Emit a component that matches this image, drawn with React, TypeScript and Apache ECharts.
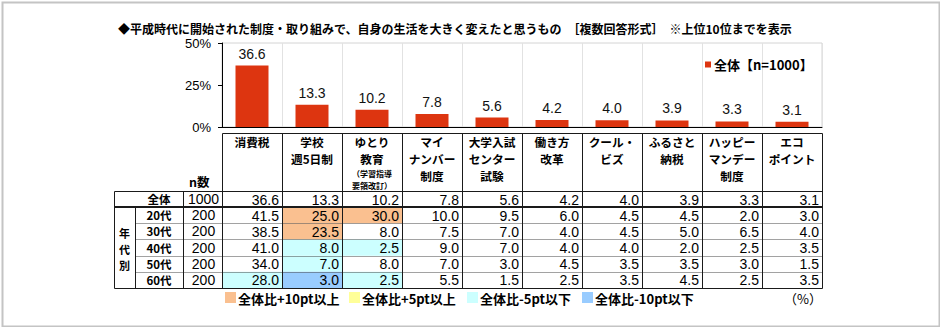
import React, { useEffect, useRef } from 'react';
import * as echarts from 'echarts';

const TITLE = '◆平成時代に開始された制度・取り組みで、自身の生活を大きく変えたと思うもの　［複数回答形式］　※上位10位までを表示';
const SERIES_NAME = '全体【n=1000】';
const categories = ['消費税', '学校\n週5日制', 'ゆとり\n教育', 'マイ\nナンバー\n制度', '大学入試\nセンター\n試験', '働き方\n改革', 'クール・\nビズ', 'ふるさと\n納税', 'ハッピー\nマンデー\n制度', 'エコ\nポイント'];
const overall = [36.6, 13.3, 10.2, 7.8, 5.6, 4.2, 4.0, 3.9, 3.3, 3.1];
const age20 = [41.5, 25.0, 30.0, 10.0, 9.5, 6.0, 4.5, 4.5, 2.0, 3.0];
const age30 = [38.5, 23.5, 8.0, 7.5, 7.0, 4.0, 4.5, 5.0, 6.5, 4.0];
const age40 = [41.0, 8.0, 2.5, 9.0, 7.0, 4.0, 4.0, 2.0, 2.5, 3.5];
const age50 = [34.0, 7.0, 8.0, 7.0, 3.0, 4.5, 3.5, 3.5, 3.0, 1.5];
const age60 = [28.0, 3.0, 2.5, 5.5, 1.5, 2.5, 3.5, 4.5, 2.5, 3.5];
const rowLabels = ['全体', '20代', '30代', '40代', '50代', '60代'];
const nValues = [1000, 200, 200, 200, 200, 200];
const yTicks = [0, 25, 50];
const groupLabel = ['年', '代', '別'];
const legendItems = ['全体比+10pt以上', '全体比+5pt以上', '全体比-5pt以下', '全体比-10pt以下'];

const BAR_COLOR = '#DD3510';
const HL_COLORS = ['#FAC090', '#FFFF99', '#CCFFFF', '#99CCFF'];
const JP = '"Noto Sans CJK JP", sans-serif';
const NUM = '"Liberation Sans", Arial, "Noto Sans CJK JP", sans-serif';

function highlight(v: number, base: number): string | null {
  const d = Math.round((v - base) * 10) / 10;
  if (d >= 10) return HL_COLORS[0];
  if (d >= 5) return HL_COLORS[1];
  if (d <= -10) return HL_COLORS[3];
  if (d <= -5) return HL_COLORS[2];
  return null;
}

export default function App() {
  const ref = useRef<HTMLDivElement>(null);
  useEffect(() => {
    const chart = echarts.init(ref.current!, null, { renderer: 'svg' });
    const rows = [overall, age20, age30, age40, age50, age60];
    const cellData: number[][] = [];
    rows.forEach((row, r) => row.forEach((v, c) => cellData.push([c, r, v])));

    const HEADER_H = 58;

    const legendGraphics: any[] = [];
    const legendX = [225, 349, 467, 582];
    legendItems.forEach((t, i) => {
      legendGraphics.push({ type: 'rect', left: legendX[i], top: 292, shape: { width: 11, height: 11 }, style: { fill: HL_COLORS[i] } });
      legendGraphics.push({ type: 'text', x: legendX[i] + 13, y: 298, style: { text: t, fontFamily: JP, fontWeight: 'bold', fontSize: 13, lineHeight: 14, fill: '#000', verticalAlign: 'middle' } });
    });
    const groupGraphics = groupLabel.map((t, i) => ({
      type: 'text', x: 124.5, y: 233 + i * 16,
      style: { text: t, fontFamily: JP, fontWeight: 'bold', fontSize: 11, lineHeight: 12, fill: '#000', align: 'center', verticalAlign: 'middle' },
    }));

    const option: any = {
      animation: false,
      backgroundColor: '#fff',
      textStyle: { fontFamily: NUM },
      title: {
        text: TITLE, left: 113, top: 17,
        textStyle: { fontFamily: JP, fontSize: 12, fontWeight: 'bold', color: '#000' },
      },
      legend: {
        left: 700, top: 53, icon: 'rect', itemWidth: 6, itemHeight: 6, itemGap: 4,
        data: [SERIES_NAME],
        textStyle: { fontFamily: JP, fontSize: 13, fontWeight: 'bold', color: '#000', padding: [0, 0, 0, -2] },
      },
      grid: [
        { left: 222, top: 43, width: 600, height: 84, show: true, borderColor: '#d4d4d4', borderWidth: 1, backgroundColor: 'transparent' },
        { left: 222, top: 191, width: 600, height: 97 },
      ],
      xAxis: [
        {
          type: 'category', gridIndex: 0, data: categories,
          axisLine: { show: true, lineStyle: { color: '#000', width: 1 } },
          axisTick: { show: false },
          splitLine: { show: true, lineStyle: { color: '#e2e2e2', width: 1 } },
          axisLabel: {
            interval: 0, margin: 6, color: '#000', fontFamily: JP, fontWeight: 'bold', fontSize: 11.7, lineHeight: 17,
            formatter: (v: string, i: number) => (i === 2 ? v + '\n{s|（学習指導}\n{s|要領改訂）}' : v),
            rich: { s: { fontSize: 8, lineHeight: 12.5, fontFamily: JP, fontWeight: 'bold', color: '#000' } },
          },
        },
        { type: 'category', gridIndex: 1, data: categories, show: false },
      ],
      yAxis: [
        {
          type: 'value', gridIndex: 0, min: 0, max: 50, interval: 25,
          axisLine: { show: true, lineStyle: { color: '#000', width: 1 } },
          axisTick: { show: true, length: 4, lineStyle: { color: '#000' } },
          splitLine: { show: false },
          axisLabel: {
            margin: 11, color: '#000', fontSize: 13, fontFamily: NUM,
            formatter: (v: number) => (yTicks.includes(v) ? v + '%' : ''),
          },
        },
        {
          type: 'category', gridIndex: 1, data: rowLabels, inverse: true,
          axisLine: { show: false }, axisTick: { show: false }, splitLine: { show: false },
          axisLabel: {
            interval: 0, margin: 0, lineHeight: 14,
            formatter: (v: string, i: number) => `{l|${v}}{n|${nValues[i]}}`,
            rich: {
              l: { width: 40, padding: [0, 4, 0, 0], align: 'center', fontFamily: JP, fontWeight: 'bold', fontSize: 11.5, lineHeight: 14, color: '#000' },
              n: { width: 37, padding: [0, 0, 0, 2], align: 'left', fontFamily: NUM, fontSize: 14, lineHeight: 14, color: '#000' },
            },
          },
        },
      ],
      series: [
        {
          name: SERIES_NAME, type: 'bar', xAxisIndex: 0, yAxisIndex: 0, data: overall, barWidth: 33,
          itemStyle: { color: BAR_COLOR },
          label: { show: true, position: 'top', distance: 5, fontSize: 14, color: '#111', fontFamily: NUM, formatter: (p: any) => p.value.toFixed(1) },
        },
        {
          type: 'custom', name: 'cells', xAxisIndex: 1, yAxisIndex: 1, z: 2,
          data: cellData, encode: { x: 0, y: 1 },
          renderItem: (params: any, api: any) => {
            const c = api.value(0), r = api.value(1), v = api.value(2);
            const p = api.coord([c, r]);
            const s = api.size([1, 1]);
            const fill = r > 0 ? highlight(v, overall[c]) : null;
            const children: any[] = [];
            if (fill) {
              children.push({ type: 'rect', shape: { x: p[0] - s[0] / 2, y: p[1] - s[1] / 2, width: s[0], height: s[1] }, style: { fill } });
            }
            children.push({ type: 'text', style: { text: Number(v).toFixed(1), x: p[0] + s[0] / 2 - 3, y: p[1] + 0.5, align: 'right', verticalAlign: 'middle', fontSize: 14, lineHeight: 14, fontFamily: NUM, fill: '#000' } });
            return { type: 'group', children };
          },
        },
        {
          type: 'custom', name: 'frame', xAxisIndex: 1, yAxisIndex: 1, z: 5,
          data: [[0, 0]], encode: { x: 0, y: 1 }, silent: true,
          renderItem: (params: any, api: any) => {
            const p = api.coord([0, 0]);
            const s = api.size([1, 1]);
            const cw = s[0], rh = s[1];
            const x0 = p[0] - cw / 2, y0 = p[1] - rh / 2;
            const x1 = x0 + cw * categories.length, y1 = y0 + rh * rowLabels.length;
            const hTop = y0 - HEADER_H;
            const a = (v: number) => Math.round(v) + 0.5;
            const ch: any[] = [];
            const L = (xa: number, ya: number, xb: number, yb: number, extra: any = {}) =>
              ch.push({ type: 'line', shape: { x1: a(xa), y1: a(ya), x2: a(xb), y2: a(yb) }, style: { stroke: '#1a1a1a', lineWidth: 1, ...extra } });
            L(x0, hTop, x1, hTop);
            L(x0 - 108, y0, x1, y0);
            ch.push({ type: 'line', shape: { x1: x0 - 108, y1: Math.round(y0 + rh), x2: x1, y2: Math.round(y0 + rh) }, style: { stroke: '#1a1a1a', lineWidth: 2 } });
            for (let k = 2; k < rowLabels.length; k++) L(x0 - 87, y0 + k * rh, x1, y0 + k * rh, { stroke: '#444', lineDash: [1, 1] });
            L(x0 - 108, y1, x1, y1);
            for (let k = 0; k <= categories.length; k++) L(x0 + k * cw, hTop, x0 + k * cw, y1);
            L(x0 - 108, y0, x0 - 108, y1);
            L(x0 - 39, y0, x0 - 39, y1);
            L(x0 - 87, y0 + rh, x0 - 87, y1);
            return { type: 'group', children: ch };
          },
        },
      ],
      graphic: [
        { type: 'rect', left: 0, top: 0, shape: { x: 1, y: 1, width: 937, height: 324 }, style: { fill: 'none', stroke: '#c4c4c4', lineWidth: 2 }, silent: true },
        { type: 'text', x: 189, y: 181.5, style: { text: 'n数', fontFamily: JP, fontWeight: 'bold', fontSize: 12.5, lineHeight: 14, fill: '#000', verticalAlign: 'middle' } },
        ...groupGraphics,
        ...legendGraphics,
        { type: 'text', x: 822, y: 298, style: { text: '（%）', fontFamily: JP, fontSize: 13, lineHeight: 14, fill: '#000', align: 'right', verticalAlign: 'middle' } },
      ],
    };
    chart.setOption(option);
    return () => chart.dispose();
  }, []);
  return <div ref={ref} style={{ position: 'absolute', left: 0, top: 0, width: 940, height: 327, background: '#fff' }} />;
}
